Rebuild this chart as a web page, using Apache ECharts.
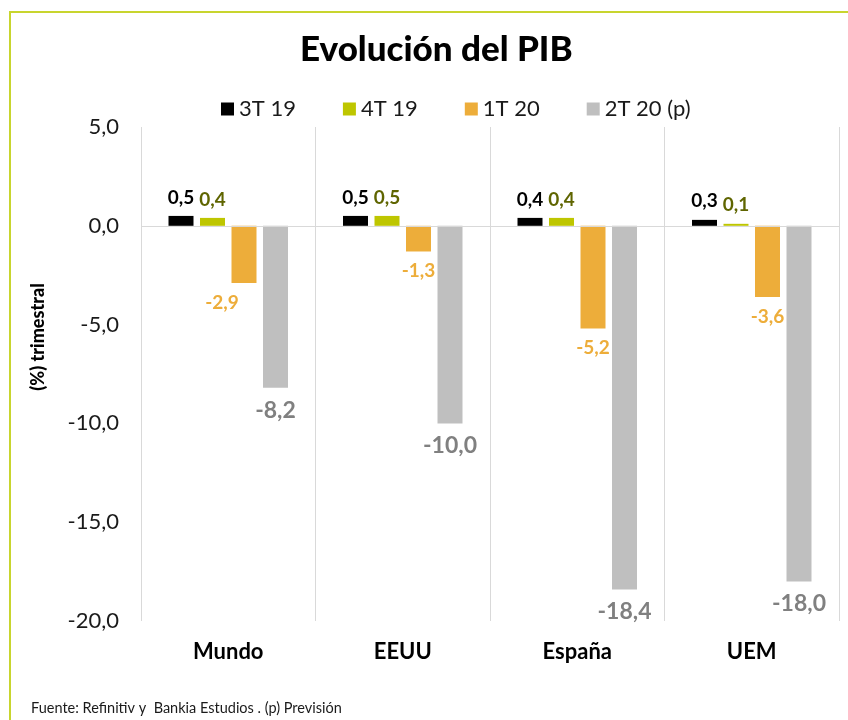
<!DOCTYPE html>
<html>
<head>
<meta charset="utf-8">
<script src="https://cdn.jsdelivr.net/npm/echarts@6/dist/echarts.min.js"></script>
<style>
html,body{margin:0;padding:0;background:#fff;}
#chart{width:848px;height:720px;}
</style>
</head>
<body>
<div id="chart"></div>
<script>
var categories = ['Mundo', 'EEUU', 'España', 'UEM'];
var seriesNames = ['3T 19', '4T 19', '1T 20', '2T 20 (p)'];
var s3T19 = [0.5, 0.5, 0.4, 0.3];
var s4T19 = [0.4, 0.5, 0.4, 0.1];
var s1T20 = [-2.9, -1.3, -5.2, -3.6];
var s2T20 = [-8.2, -10.0, -18.4, -18.0];
var yTicks = [-20, -15, -10, -5, 0, 5];

var FONT = 'Lato, "Open Sans", sans-serif';
var barColors = ['#000000', '#bec600', '#edad3a', '#bfbfbf'];
var labelColors = ['#000000', '#5f6500', '#edad3a', '#808080'];
var labelSizes = [19, 19, 19, 23];
var allData = [s3T19, s4T19, s1T20, s2T20];

function fmt(v) { return v.toFixed(1).replace('.', ','); }

var series = allData.map(function (arr, si) {
  return {
    name: seriesNames[si],
    type: 'bar',
    barWidth: 25,
    barGap: '26%',
    itemStyle: { color: barColors[si] },
    data: arr.map(function (v, ci) {
      var item = { value: v };
      var lbl = {};
      if (v < 0) { lbl.position = 'bottom'; lbl.distance = si === 3 ? 11 : 10; }
      if (si === 2 && ci === 0) lbl.offset = [-22, 0];
      item.label = lbl;
      return item;
    }),
    label: {
      show: true,
      position: 'top',
      distance: 9,
      fontFamily: FONT,
      fontWeight: 'bold',
      fontSize: labelSizes[si],
      color: labelColors[si],
      formatter: function (p) { return fmt(p.value); }
    },
    markLine: si === 0 ? {
      silent: true,
      symbol: 'none',
      label: { show: false },
      lineStyle: { color: '#d9d9d9', type: 'solid', width: 1 },
      data: [{ yAxis: 0 }]
    } : undefined,
    z: 3
  };
});

var chart = echarts.init(document.getElementById('chart'));
chart.setOption({
  backgroundColor: '#ffffff',
  animation: false,
  title: {
    text: 'Evolución del PIB',
    left: 295,
    top: 27,
    textStyle: { fontFamily: FONT, fontWeight: 900, fontSize: 35, color: '#000' }
  },
  legend: {
    data: seriesNames,
    left: 216,
    top: 93,
    itemWidth: 13,
    itemHeight: 13,
    itemGap: 47,
    icon: 'rect',
    textStyle: { fontFamily: FONT, fontSize: 22, color: '#1a1a1a' }
  },
  grid: { left: 141, right: 9, top: 127, bottom: 99, containLabel: false },
  xAxis: {
    type: 'category',
    data: categories,
    axisLine: { show: false },
    axisTick: { show: false },
    splitLine: { show: true, interval: 0, lineStyle: { color: '#d9d9d9', width: 1 } },
    axisLabel: { margin: 20, fontFamily: FONT, fontWeight: 'bold', fontSize: 22, color: '#000' }
  },
  yAxis: {
    type: 'value',
    min: yTicks[0],
    max: yTicks[yTicks.length - 1],
    interval: 5,
    axisLine: { show: false },
    axisTick: { show: false },
    splitLine: { show: false },
    axisLabel: {
      margin: 22,
      fontFamily: FONT,
      fontSize: 22,
      color: '#1a1a1a',
      formatter: function (v) { return fmt(v); }
    }
  },
  graphic: [
    {
      type: 'rect',
      shape: { x: 10, y: 12, width: 900, height: 800 },
      style: { fill: 'none', stroke: '#c8d52e', lineWidth: 2 },
      silent: true, z: -1
    },
    {
      type: 'text',
      x: 38, y: 337,
      rotation: Math.PI / 2,
      style: {
        text: '(%) trimestral',
        fontFamily: FONT, fontWeight: 900, fontSize: 18, fill: '#000',
        align: 'center', verticalAlign: 'middle'
      }
    },
    {
      type: 'text',
      x: 31, y: 708,
      style: {
        text: 'Fuente: Refinitiv y  Bankia Estudios . (p) Previsión',
        fontFamily: FONT, fontSize: 14.5, fill: '#1a1a1a',
        align: 'left', verticalAlign: 'middle'
      }
    }
  ],
  series: series
});
</script>
</body>
</html>
